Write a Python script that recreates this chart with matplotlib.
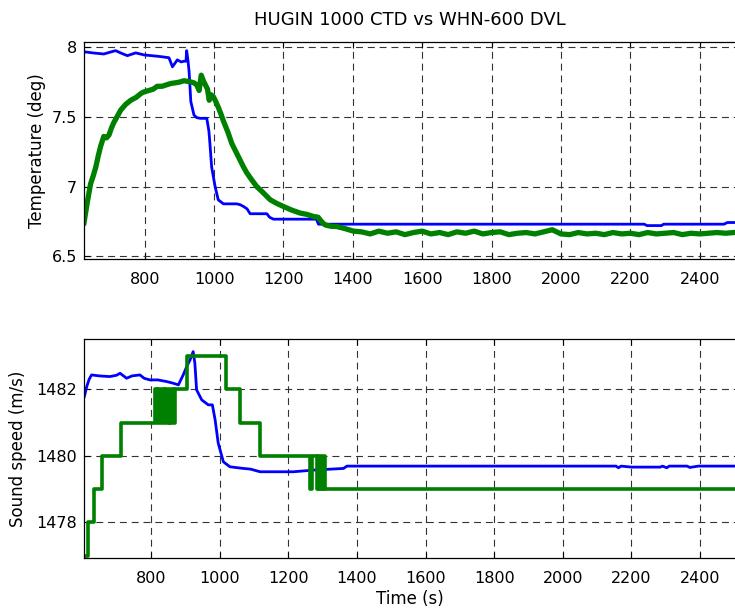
import matplotlib
matplotlib.use("Agg")
import matplotlib.pyplot as plt

# -----------------------------------------------------------
# DATA
# -----------------------------------------------------------

# HUGIN 1000 CTD temperature (blue)
ctd_temp_t = [625, 650, 682, 700, 716, 735, 750, 774, 799, 820, 840, 856, 870,
              880, 894, 905, 913, 919, 921, 925, 928, 933, 942, 950, 960, 979,
              985, 988, 993, 1003, 1012, 1027, 1065, 1075, 1085, 1095, 1104,
              1152, 1160, 1171, 1295, 1301, 2240, 2248, 2290, 2296, 2470, 2480,
              2522]
ctd_temp = [7.968, 7.96, 7.952, 7.965, 7.976, 7.955, 7.94, 7.96, 7.945, 7.94,
            7.935, 7.93, 7.925, 7.86, 7.91, 7.895, 7.90, 7.90, 7.976, 7.90,
            7.825, 7.61, 7.514, 7.495, 7.49, 7.49, 7.40, 7.31, 7.14, 7.0,
            6.905, 6.876, 6.876, 6.87, 6.857, 6.84, 6.805, 6.805, 6.78, 6.766,
            6.766, 6.73, 6.73, 6.72, 6.72, 6.73, 6.73, 6.742, 6.742]

# WHN-600 DVL temperature (green, noisy)
dvl_temp_t = [625, 634, 644, 652, 659, 666, 673, 682, 690, 697, 704, 711, 720,
              731, 745, 760, 775, 790, 798, 812, 825, 836, 850, 862, 875, 888,
              900, 913, 925, 935, 942, 950, 957, 963, 969, 975, 981, 986, 991,
              998, 1005, 1012, 1020, 1027, 1040, 1051, 1063, 1075, 1085, 1094,
              1108, 1123, 1140, 1162, 1180, 1200, 1225, 1248, 1268, 1287, 1300,
              1306, 1313, 1320, 1337, 1354, 1375, 1402,
              1425, 1450, 1475, 1500, 1525, 1550, 1575, 1600, 1625, 1650, 1675,
              1700, 1725, 1750, 1775, 1800, 1825, 1850, 1875, 1900, 1925, 1950,
              1975, 2000, 2025, 2050, 2075, 2100, 2125, 2150, 2175, 2200, 2225,
              2250, 2275, 2300, 2325, 2350, 2375, 2400, 2425, 2450, 2475, 2522]
dvl_temp = [6.74, 6.88, 7.02, 7.08, 7.14, 7.22, 7.29, 7.36, 7.35, 7.37, 7.42,
            7.46, 7.50, 7.55, 7.59, 7.62, 7.64, 7.67, 7.68, 7.69, 7.70, 7.72,
            7.72, 7.73, 7.74, 7.745, 7.75, 7.76, 7.755, 7.75, 7.745, 7.73, 7.69,
            7.80, 7.76, 7.73, 7.70, 7.62, 7.66, 7.645, 7.61, 7.57, 7.52, 7.47,
            7.39, 7.31, 7.25, 7.19, 7.14, 7.10, 7.05, 7.00, 6.96, 6.905, 6.88,
            6.857, 6.83, 6.81, 6.80, 6.785, 6.78, 6.76, 6.74, 6.725, 6.715,
            6.713, 6.70, 6.68,
            6.675, 6.66, 6.68, 6.665, 6.675, 6.655, 6.67, 6.68, 6.66, 6.67,
            6.655, 6.675, 6.665, 6.68, 6.66, 6.67, 6.675, 6.655, 6.665, 6.67,
            6.66, 6.675, 6.69, 6.66, 6.655, 6.67, 6.66, 6.665, 6.655, 6.67,
            6.66, 6.665, 6.655, 6.67, 6.66, 6.665, 6.67, 6.655, 6.665, 6.66,
            6.665, 6.67, 6.665, 6.675]

# HUGIN 1000 CTD sound speed (blue)
ctd_ss_t = [606, 613, 620, 627, 650, 680, 700, 710, 729, 745, 768, 780, 797,
            820, 846, 865, 880, 894, 905, 914, 923, 928, 933, 948, 967, 979,
            987, 996, 1011, 1030, 1069, 1090, 1118, 1157, 1215, 1250, 1273,
            1361, 1371, 2155, 2162, 2170, 2200, 2284, 2290, 2303, 2310, 2362,
            2370, 2395, 2522]
ctd_ss = [1481.78, 1482.08, 1482.3, 1482.43, 1482.4, 1482.38, 1482.42, 1482.48,
          1482.33, 1482.4, 1482.43, 1482.33, 1482.28, 1482.28, 1482.23,
          1482.18, 1482.13, 1482.43, 1482.7, 1482.88, 1483.13, 1482.78,
          1481.98, 1481.68, 1481.53, 1481.53, 1481.08, 1480.38, 1479.82,
          1479.67, 1479.62, 1479.6, 1479.52, 1479.52, 1479.52, 1479.55,
          1479.57, 1479.62, 1479.69, 1479.69, 1479.64, 1479.69, 1479.66,
          1479.66, 1479.69, 1479.64, 1479.69, 1479.69, 1479.65, 1479.69,
          1479.69]

# WHN-600 DVL sound speed (green, integer steps)
dvl_ss_t = [605, 617, 634, 658, 712,
            812, 817, 822, 827, 832, 837, 842, 847, 852, 857, 862, 867,
            870, 906, 1019, 1059, 1118, 1264, 1268,
            1283, 1287, 1291, 1295, 1299, 1303, 1307, 2522]
dvl_ss = [1477, 1478, 1479, 1480, 1481,
          1482, 1481, 1482, 1481, 1482, 1481, 1482, 1481, 1482, 1481, 1482, 1481,
          1482, 1483, 1482, 1481, 1480, 1479, 1480,
          1479, 1480, 1479, 1480, 1479, 1480, 1479, 1479]

time_ticks = [800, 1000, 1200, 1400, 1600, 1800, 2000, 2200, 2400]
temp_ticks = [6.5, 7, 7.5, 8]
temp_labels = ["6.5", "7", "7.5", "8"]
ss_ticks = [1478, 1480, 1482]

# -----------------------------------------------------------
# PLOT
# -----------------------------------------------------------

plt.rcParams['lines.scale_dashes'] = False
BLUE = (0, 0, 1)
GREEN = (0, 0.5, 0)


def style_axes(ax):
    ax.grid(True, color='0.2', linestyle=(0, (5, 3.5)), linewidth=0.8)
    ax.set_axisbelow(True)
    ax.tick_params(direction='in', length=4, width=0.8, top=True, right=True,
                   labelsize=11.5)
    ax.tick_params(axis='x', pad=9)
    ax.tick_params(axis='y', pad=5)
    for s in ax.spines.values():
        s.set_linewidth(0.9)
    ax.set_xticks(time_ticks)


fig = plt.figure(figsize=(7.35, 6.12), dpi=100)

ax1 = fig.add_axes([84 / 735, 1 - 259 / 612, 658 / 735, (259 - 42.3) / 612])
ax1.plot(ctd_temp_t, ctd_temp, color=BLUE, linewidth=2.0)
ax1.plot(dvl_temp_t, dvl_temp, color=GREEN, linewidth=3.8)
ax1.set_xlim(625, 2522)
ax1.set_ylim(6.48, 8.036)
style_axes(ax1)
ax1.set_yticks(temp_ticks)
ax1.set_yticklabels(temp_labels)
ax1.set_ylabel("Temperature (deg)", fontsize=12)
ax1.yaxis.set_label_coords(-0.058, 0.5)

ax2 = fig.add_axes([84 / 735, 1 - 558.3 / 612, 658 / 735, (558.3 - 339.3) / 612])
ax2.plot(ctd_ss_t, ctd_ss, color=BLUE, linewidth=2.0)
ax2.step(dvl_ss_t, dvl_ss, where='post', color=GREEN, linewidth=2.6)
ax2.set_xlim(605, 2522)
ax2.set_ylim(1476.92, 1483.5)
style_axes(ax2)
ax2.set_yticks(ss_ticks)
ax2.set_ylabel("Sound speed (m/s)", fontsize=12)
ax2.yaxis.set_label_coords(-0.087, 0.5)
ax2.set_xlabel("Time (s)", fontsize=12)
ax2.xaxis.set_label_coords(0.4955, -0.145)

fig.text(410 / 735, 1 - 25 / 612, "HUGIN 1000 CTD vs WHN-600 DVL",
         ha='center', va='baseline', fontsize=13)

fig.savefig("out.png", dpi=100)
